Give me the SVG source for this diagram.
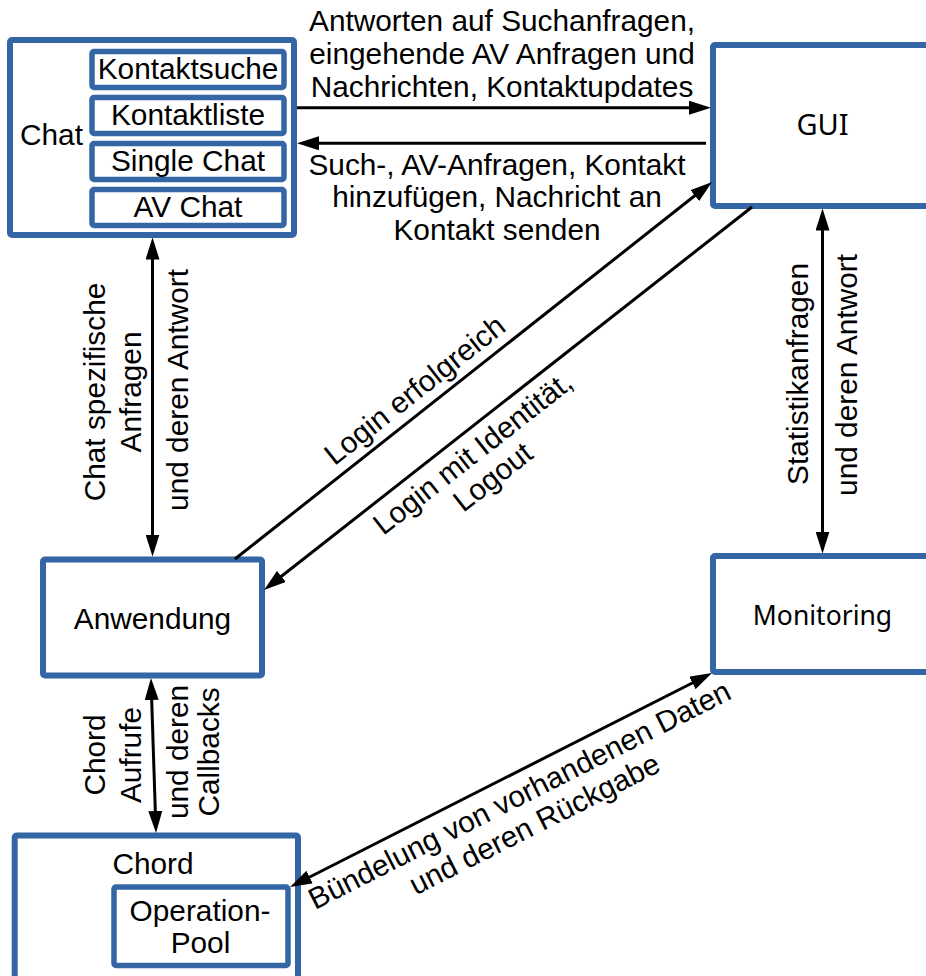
<svg xmlns="http://www.w3.org/2000/svg" width="926" height="976" viewBox="0 0 926 976">
<style>
.box{fill:#fff;stroke:#3465a4;stroke-width:6}
.inner{fill:#fff;stroke:#3465a4;stroke-width:5.5}
.t{font-family:"Liberation Sans",Arial,sans-serif;font-size:29.8px;fill:#000}
.n{font-family:"Noto Sans","Liberation Sans",sans-serif;font-size:27px;fill:#000}
.m{text-anchor:middle}
.c{fill:none;stroke:#000;stroke-width:3}
</style>
<defs>
<marker id="ah" viewBox="0 0 22 14" refX="12" refY="7" markerWidth="22" markerHeight="14" markerUnits="userSpaceOnUse" orient="auto-start-reverse">
<path d="M0,0 L22,7 L0,14 z" fill="#000"/>
</marker>
</defs>
<rect width="926" height="976" fill="#fff"/>

<g id="chat">
<rect class="box" x="10" y="40" width="284" height="195" rx="2"/>
<text class="t" x="20" y="145">Chat</text>
<g id="kontaktsuche">
<rect class="inner" x="92" y="51.5" width="192" height="36" rx="2"/>
<text class="t m" x="188" y="79">Kontaktsuche</text>
</g>
<g id="kontaktliste">
<rect class="inner" x="92" y="97.5" width="192" height="36" rx="2"/>
<text class="t m" x="188" y="125">Kontaktliste</text>
</g>
<g id="singlechat">
<rect class="inner" x="92" y="143.5" width="192" height="36" rx="2"/>
<text class="t m" x="188" y="170.5">Single Chat</text>
</g>
<g id="avchat">
<rect class="inner" x="92" y="189.5" width="192" height="36" rx="2"/>
<text class="t m" x="188" y="216.5">AV Chat</text>
</g>
</g>

<g id="gui">
<rect class="box" x="713" y="45" width="240" height="161" rx="2"/>
<text class="n m" x="822.5" y="135" style="font-size:29px">GUI</text>
</g>

<g id="anwendung">
<rect class="box" x="43" y="559.5" width="219" height="116" rx="2"/>
<text class="t m" x="152.5" y="628.5">Anwendung</text>
</g>

<g id="monitoring">
<rect class="box" x="713" y="556" width="240" height="116" rx="2"/>
<text class="n m" x="822.5" y="625" style="font-size:26.5px">Monitoring</text>
</g>

<g id="chord">
<rect class="box" x="14.7" y="835.5" width="283.3" height="170" rx="2"/>
<text class="t m" x="153" y="873.5">Chord</text>
<g id="operationpool">
<rect class="inner" x="114" y="887" width="174" height="78.5" rx="2"/>
<text class="t m" x="200" y="920.5">Operation-</text>
<text class="t m" x="200.5" y="952.5">Pool</text>
</g>
</g>

<g id="connectors">
<line class="c" x1="297" y1="107.7" x2="701" y2="107.7" marker-end="url(#ah)"/>
<line class="c" x1="706" y1="143.3" x2="307" y2="143.3" marker-end="url(#ah)"/>
<line class="c" x1="235" y1="559" x2="704.2" y2="188.2" marker-end="url(#ah)"/>
<line class="c" x1="752" y1="207" x2="271.9" y2="583.8" marker-end="url(#ah)"/>
<line class="c" x1="152.5" y1="247.5" x2="152.5" y2="546.5" marker-start="url(#ah)" marker-end="url(#ah)"/>
<line class="c" x1="822.5" y1="218.5" x2="822.5" y2="543.5" marker-start="url(#ah)" marker-end="url(#ah)"/>
<line class="c" x1="151.3" y1="688" x2="155.7" y2="823" marker-start="url(#ah)" marker-end="url(#ah)"/>
<line class="c" x1="298.9" y1="882.5" x2="703.1" y2="677.5" marker-start="url(#ah)" marker-end="url(#ah)"/>

<g id="labels">
<text class="t m" x="502" y="31">Antworten auf Suchanfragen,</text>
<text class="t m" x="502" y="63.5">eingehende AV Anfragen und</text>
<text class="t m" x="502" y="97">Nachrichten, Kontaktupdates</text>
<text class="t m" x="497" y="174.5">Such-, AV-Anfragen, Kontakt</text>
<text class="t m" x="497" y="207">hinzufügen, Nachricht an</text>
<text class="t m" x="497" y="239.5">Kontakt senden</text>

<text class="t m" transform="translate(105,392) rotate(-90)">Chat spezifische</text>
<text class="t m" transform="translate(141,392) rotate(-90)">Anfragen</text>
<text class="t m" transform="translate(188,390) rotate(-90)">und deren Antwort</text>

<text class="t m" transform="translate(808,374) rotate(-90)">Statistikanfragen</text>
<text class="t m" transform="translate(857,375) rotate(-90)">und deren Antwort</text>

<text class="t m" transform="translate(105,755) rotate(-90)">Chord</text>
<text class="t m" transform="translate(141,755) rotate(-90)">Aufrufe</text>
<text class="t m" transform="translate(188,752) rotate(-90)">und deren</text>
<text class="t m" transform="translate(219,752) rotate(-90)">Callbacks</text>

<text class="t m" transform="translate(421,398) rotate(-38.3)">Login erfolgreich</text>
<text class="t m" transform="translate(479,461) rotate(-38.1)">Login mit Identität,</text>
<text class="t m" transform="translate(499,485) rotate(-38.1)">Logout</text>

<text class="t m" transform="translate(524,804) rotate(-26.9)">Bündelung von vorhandenen Daten</text>
<text class="t m" transform="translate(539,833) rotate(-26.9)">und deren Rückgabe</text>
</g>
</g>
</svg>
